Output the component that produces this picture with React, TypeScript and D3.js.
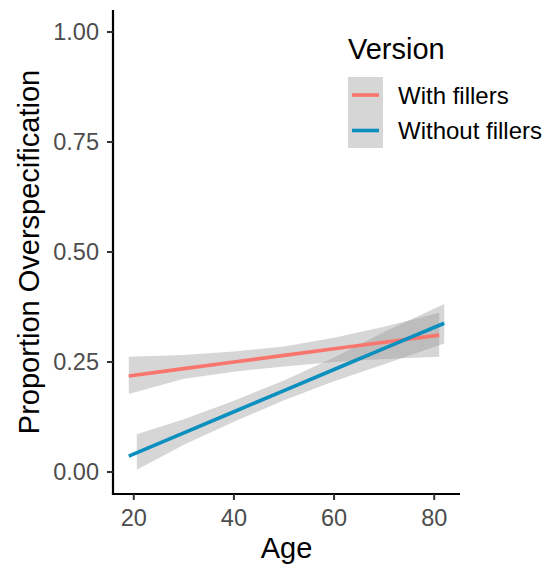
import React from "react";
import * as d3 from "d3";

const xTicks = [20, 40, 60, 80];
const yTicks = [0, 0.25, 0.5, 0.75, 1.0];
const yTickLabels = ["0.00", "0.25", "0.50", "0.75", "1.00"];

const seriesNames = ["With fillers", "Without fillers"];
const seriesColors = ["#F8766D", "#0A8FBE"];

// With fillers
const redLineAge = [19, 30, 40, 50, 60, 70, 81];
const redFit = [0.218, 0.235, 0.25, 0.265, 0.28, 0.295, 0.311];
const redBandAge = [19, 30, 40, 50, 60, 70, 81];
const redLower = [0.177, 0.212, 0.228, 0.24, 0.25, 0.257, 0.262];
const redUpper = [0.262, 0.266, 0.274, 0.285, 0.305, 0.33, 0.362];

// Without fillers
const blueLineAge = [19, 30, 40, 50, 60, 70, 82];
const blueFit = [0.036, 0.089, 0.137, 0.185, 0.233, 0.281, 0.338];
const blueBandAge = [20.6, 30, 40, 50, 60, 70, 82];
const blueLower = [0.005, 0.062, 0.114, 0.163, 0.206, 0.245, 0.292];
const blueUpper = [0.086, 0.12, 0.162, 0.208, 0.26, 0.318, 0.382];

const FONT = "'Liberation Sans', Arial, Helvetica, sans-serif";

export default function App() {
  const x = d3.scaleLinear().domain([15.85, 85.15]).range([113, 460]);
  const y = d3.scaleLinear().domain([-0.05, 1.05]).range([494, 10]);

  const area = d3
    .area<[number, number, number]>()
    .x((d) => x(d[0]))
    .y0((d) => y(d[1]))
    .y1((d) => y(d[2]));
  const line = d3
    .line<[number, number]>()
    .x((d) => x(d[0]))
    .y((d) => y(d[1]));

  const bands = [
    redBandAge.map((a, i) => [a, redLower[i], redUpper[i]] as [number, number, number]),
    blueBandAge.map((a, i) => [a, blueLower[i], blueUpper[i]] as [number, number, number]),
  ];
  const lines = [
    redLineAge.map((a, i) => [a, redFit[i]] as [number, number]),
    blueLineAge.map((a, i) => [a, blueFit[i]] as [number, number]),
  ];

  const [x0, x1] = x.range();
  const [yb, yt] = y.range();

  return (
    <div style={{ position: "absolute", left: 0, top: 0 }}>
      <svg width={552} height={564} style={{ display: "block", fontFamily: FONT }}>
        <rect x={0} y={0} width={552} height={564} fill="#ffffff" />
        {bands.map((b, i) => (
          <path key={"b" + i} d={area(b) || ""} fill="#999999" fillOpacity={0.4} />
        ))}
        {lines.map((l, i) => (
          <path key={"l" + i} d={line(l) || ""} fill="none" stroke={seriesColors[i]} strokeWidth={3.6} />
        ))}
        {/* axes */}
        <line x1={x0} x2={x0} y1={yt} y2={yb} stroke="#000" strokeWidth={2.2} />
        <line x1={x0 - 1.1} x2={x1} y1={yb} y2={yb} stroke="#000" strokeWidth={2.2} />
        {yTicks.map((t, i) => (
          <g key={"yt" + i}>
            <line x1={x0 - 6} x2={x0} y1={y(t)} y2={y(t)} stroke="#333" strokeWidth={2} />
            <text x={99} y={y(t)} dy="0.36em" textAnchor="end" fontSize={23.5} fill="#4D4D4D">
              {yTickLabels[i]}
            </text>
          </g>
        ))}
        {xTicks.map((t, i) => (
          <g key={"xt" + i}>
            <line x1={x(t)} x2={x(t)} y1={yb} y2={yb + 6} stroke="#333" strokeWidth={2} />
            <text x={x(t)} y={526} textAnchor="middle" fontSize={23.5} fill="#4D4D4D">
              {String(t)}
            </text>
          </g>
        ))}
        <text x={(x0 + x1) / 2} y={558} textAnchor="middle" fontSize={29} fill="#000">
          Age
        </text>
        <text
          transform={`translate(39, ${(yt + yb) / 2}) rotate(-90)`}
          textAnchor="middle"
          fontSize={29}
          fill="#000"
        >
          Proportion Overspecification
        </text>
        {/* legend */}
        <text x={348} y={59} fontSize={29} fill="#000">
          Version
        </text>
        <rect x={348} y={77} width={35} height={71} fill="#999999" fillOpacity={0.4} />
        {seriesNames.map((n, i) => (
          <g key={"lg" + i}>
            <line x1={352} x2={379} y1={95 + i * 35.5} y2={95 + i * 35.5} stroke={seriesColors[i]} strokeWidth={3.6} />
            <text x={398} y={95 + i * 35.5} dy="0.36em" fontSize={24} fill="#000">
              {n}
            </text>
          </g>
        ))}
      </svg>
    </div>
  );
}
